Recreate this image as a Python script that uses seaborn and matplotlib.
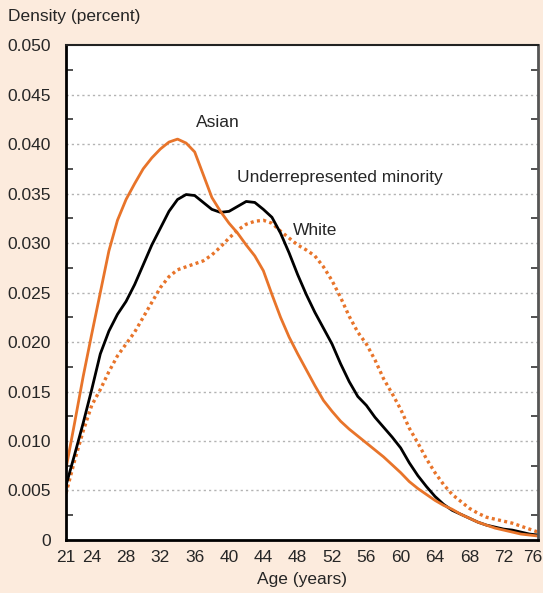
import numpy as np
import pandas as pd
import seaborn as sns
import matplotlib.pyplot as plt
import matplotlib.transforms as mtransforms
from matplotlib.ticker import MultipleLocator, FixedLocator

ages = list(range(21, 77))

asian = [0.0072, 0.0118, 0.0165, 0.0208, 0.0250, 0.0292, 0.0323, 0.0344, 0.0360, 0.0375,
         0.0386, 0.0395, 0.0402, 0.0405, 0.0401, 0.0392, 0.0369, 0.0346, 0.0332, 0.0320,
         0.0310, 0.0298, 0.0287, 0.0272, 0.0248, 0.0225, 0.0205, 0.0188, 0.0172, 0.0156,
         0.0141, 0.0130, 0.0120, 0.0112, 0.0105, 0.0098, 0.0091, 0.0084, 0.0076, 0.0068,
         0.0059, 0.0052, 0.0046, 0.0040, 0.0035, 0.0031, 0.0026, 0.0022, 0.0018, 0.0015,
         0.0012, 0.0010, 0.0008, 0.0006, 0.0005, 0.0004]

minority = [0.0055, 0.0086, 0.0118, 0.0152, 0.0188, 0.0211, 0.0228, 0.0241, 0.0258, 0.0278,
            0.0298, 0.0315, 0.0332, 0.0344, 0.0349, 0.0348, 0.0341, 0.0334, 0.0331, 0.0332,
            0.0337, 0.0342, 0.0341, 0.0334, 0.0326, 0.0310, 0.0290, 0.0268, 0.0248, 0.0230,
            0.0214, 0.0198, 0.0178, 0.0160, 0.0145, 0.0136, 0.0124, 0.0114, 0.0104, 0.0093,
            0.0078, 0.0065, 0.0054, 0.0044, 0.0036, 0.0030, 0.0026, 0.0022, 0.0018, 0.0015,
            0.0013, 0.0011, 0.0010, 0.0008, 0.0006, 0.0005]

white = [0.0047, 0.0080, 0.0110, 0.0136, 0.0152, 0.0170, 0.0186, 0.0198, 0.0210, 0.0225,
         0.0240, 0.0255, 0.0266, 0.0273, 0.0276, 0.0279, 0.0282, 0.0288, 0.0296, 0.0305,
         0.0313, 0.0319, 0.0322, 0.0323, 0.0320, 0.0312, 0.0305, 0.0298, 0.0293, 0.0287,
         0.0276, 0.0262, 0.0245, 0.0226, 0.0210, 0.0198, 0.0182, 0.0163, 0.0148, 0.0132,
         0.0113, 0.0098, 0.0082, 0.0068, 0.0056, 0.0046, 0.0039, 0.0032, 0.0027, 0.0023,
         0.0021, 0.0019, 0.0017, 0.0014, 0.0011, 0.0008]

xticks = [21, 24, 28, 32, 36, 40, 44, 48, 52, 56, 60, 64, 68, 72, 76]
yticks = [0, 0.005, 0.010, 0.015, 0.020, 0.025, 0.030, 0.035, 0.040, 0.045, 0.050]
ylabels = ["0"] + ["%.3f" % v for v in yticks[1:]]

df = pd.DataFrame({"age": ages, "asian": asian, "minority": minority, "white": white})

sns.set_style("white")
plt.rcParams['font.family'] = ['Liberation Sans', 'DejaVu Sans']

orange = "#E8742A"
bg = "#FCEBDD"

fig = plt.figure(figsize=(5.43, 5.93), dpi=100, facecolor=bg)
ax = fig.add_axes([0.1215, 0.0894, 0.8693, 0.8346])
ax.set_facecolor("white")

sns.lineplot(data=df, x="age", y="white", ax=ax, color=orange, linewidth=2.4,
             linestyle=(0, (0.9, 1.0)), dash_capstyle="butt")
sns.lineplot(data=df, x="age", y="minority", ax=ax, color="black", linewidth=2)
sns.lineplot(data=df, x="age", y="asian", ax=ax, color=orange, linewidth=2)

ax.set_xlim(21, 76)
ax.set_ylim(0, 0.05)
ax.set_xticks(xticks)
ax.set_xticklabels([str(t) for t in xticks])
ax.xaxis.set_minor_locator(MultipleLocator(1))
ax.set_yticks(yticks)
ax.set_yticklabels(ylabels)
ax.yaxis.set_minor_locator(FixedLocator([0.0025 + 0.005 * i for i in range(10)]))

for y in yticks[1:-1]:
    ax.axhline(y, color="#b3b3b3", linewidth=1, linestyle=(0, (1.6, 2.2)), zorder=0)

ax.tick_params(axis="x", which="major", direction="in", length=6, width=1,
               color="#333333", labelsize=12.5, pad=7)
ax.tick_params(axis="x", which="minor", direction="in", length=4, width=1, color="#333333")
ax.tick_params(axis="y", which="major", length=0, labelsize=12.5, pad=11)
ax.tick_params(axis="y", which="minor", direction="in", length=5, width=1.2,
               color="#333333", right=True, left=True)

# nudge last x label inward like the original
last = ax.get_xticklabels()[-1]
last.set_transform(last.get_transform() + mtransforms.ScaledTranslation(-5 / 100, 0, fig.dpi_scale_trans))

for side in ["left", "bottom"]:
    ax.spines[side].set_linewidth(2)
    ax.spines[side].set_color("black")
ax.spines["top"].set_linewidth(1.5)
ax.spines["top"].set_color("#222222")
ax.spines["right"].set_linewidth(2)
ax.spines["right"].set_color("#555555")

ax.set_xlabel("Age (years)", fontsize=12.5, labelpad=5)
ax.set_ylabel("")
fig.text(8 / 543, 1 - 17 / 593, "Density (percent)", fontsize=12.5, ha="left", va="center")

ax.text(38.7, 0.0422, "Asian", fontsize=12.5, ha="center", va="center")
ax.text(40.9, 0.0366, "Underrepresented minority", fontsize=12.5, ha="left", va="center")
ax.text(47.5, 0.0313, "White", fontsize=12.5, ha="left", va="center")

plt.savefig("out.png", dpi=100, facecolor=bg)
